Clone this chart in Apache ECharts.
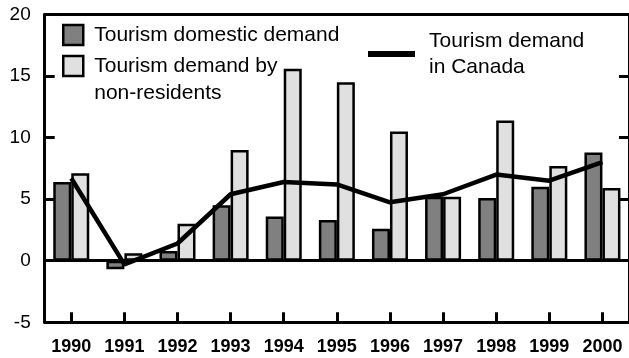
<!DOCTYPE html>
<html>
<head>
<meta charset="utf-8">
<style>
  html, body { margin: 0; padding: 0; background: #ffffff; }
  #chart { width: 629px; height: 358px; }
</style>
<script src="https://cdn.jsdelivr.net/npm/echarts@6/dist/echarts.min.js"></script>
</head>
<body>
<div id="chart"></div>
<script>
var categories = ['1990', '1991', '1992', '1993', '1994', '1995', '1996', '1997', '1998', '1999', '2000'];
var domesticDemand = [6.4, -0.7, 0.8, 4.5, 3.6, 3.3, 2.6, 5.2, 5.1, 6.0, 8.8];
var nonResidentDemand = [7.1, 0.6, 3.0, 9.0, 15.6, 14.5, 10.5, 5.2, 11.4, 7.7, 5.9];
var canadaDemand = [6.7, -0.3, 1.4, 5.4, 6.4, 6.2, 4.75, 5.4, 7.0, 6.5, 8.0];
var seriesNames = ['Tourism domestic demand', 'Tourism demand by\nnon-residents', 'Tourism demand\nin Canada'];

var FONT = '"Liberation Sans", Arial, Helvetica, sans-serif';
var chart = echarts.init(document.getElementById('chart'), null, { renderer: 'canvas' });

var legendText = { fontFamily: FONT, fontSize: 21, color: '#000', lineHeight: 27 };

chart.setOption({
  animation: false,
  backgroundColor: '#ffffff',
  grid: { left: 44.7, right: -4.8, top: 14.5, bottom: 35.7, containLabel: false },
  legend: [
    {
      data: [seriesNames[0]], left: 62, top: 21.5, padding: 0,
      icon: 'rect', itemWidth: 20, itemHeight: 20,
      itemStyle: { color: '#808080', borderColor: '#000', borderWidth: 2.5 },
      textStyle: Object.assign({}, legendText, { padding: [0, 0, 0, 6] })
    },
    {
      data: [seriesNames[1]], left: 62, top: 25.5, padding: 0,
      icon: 'rect', itemWidth: 20, itemHeight: 20,
      formatter: function (name) { return ' \n' + name; },
      itemStyle: { color: '#e0e0e0', borderColor: '#000', borderWidth: 2.5 },
      textStyle: Object.assign({}, legendText, { padding: [0, 0, 0, 6] })
    },
    {
      data: [seriesNames[2]], left: 368, top: 27.5, padding: 0,
      icon: 'rect', itemWidth: 47, itemHeight: 6,
      itemStyle: { color: '#000', borderWidth: 0 },
      lineStyle: { width: 0 },
      textStyle: Object.assign({}, legendText, { lineHeight: 26.5, padding: [0, 0, 0, 9] })
    }
  ],
  xAxis: [
    {
      type: 'category', data: categories, position: 'bottom',
      axisLine: { onZero: false, lineStyle: { color: '#000', width: 3 } },
      axisTick: { show: true, inside: true, length: 10, alignWithLabel: true, lineStyle: { color: '#000', width: 3 } },
      axisLabel: { fontFamily: FONT, fontSize: 18, fontWeight: 'bold', color: '#000', margin: 16, interval: 0 },
      splitLine: { show: false }
    },
    {
      type: 'category', data: categories, position: 'top',
      axisLine: { onZero: false, lineStyle: { color: '#000', width: 3 } },
      axisTick: { show: false }, axisLabel: { show: false }, splitLine: { show: false }
    }
  ],
  yAxis: [
    {
      type: 'value', min: -5, max: 20, interval: 5, position: 'left',
      axisLine: { show: true, onZero: false, lineStyle: { color: '#000', width: 3 } },
      axisTick: { show: true, inside: true, length: 10, lineStyle: { color: '#000', width: 3 } },
      axisLabel: { fontFamily: FONT, fontSize: 19, color: '#000', margin: 14 },
      splitLine: { show: false }
    },
    {
      type: 'value', min: -5, max: 20, interval: 5, position: 'right',
      axisLine: { show: true, onZero: false, lineStyle: { color: '#000', width: 3 } },
      axisTick: { show: true, inside: true, length: 10, lineStyle: { color: '#000', width: 3 } },
      axisLabel: { show: false }, splitLine: { show: false }
    }
  ],
  series: [
    {
      name: seriesNames[0], type: 'bar', data: domesticDemand,
      barWidth: 18, barGap: '0%',
      itemStyle: { color: '#808080', borderColor: '#000', borderWidth: 2.5 },
      markLine: {
        silent: true, symbol: 'none', label: { show: false },
        lineStyle: { color: '#000', width: 3, type: 'solid' },
        data: [{ yAxis: 0 }]
      }
    },
    {
      name: seriesNames[1], type: 'bar', data: nonResidentDemand,
      barWidth: 18, barGap: '0%',
      itemStyle: { color: '#e0e0e0', borderColor: '#000', borderWidth: 2.5 }
    },
    {
      name: seriesNames[2], type: 'line', data: canadaDemand, z: 5,
      showSymbol: false, symbol: 'none',
      lineStyle: { color: '#000', width: 4.5 },
      itemStyle: { color: '#000' }
    }
  ]
});
</script>
</body>
</html>
